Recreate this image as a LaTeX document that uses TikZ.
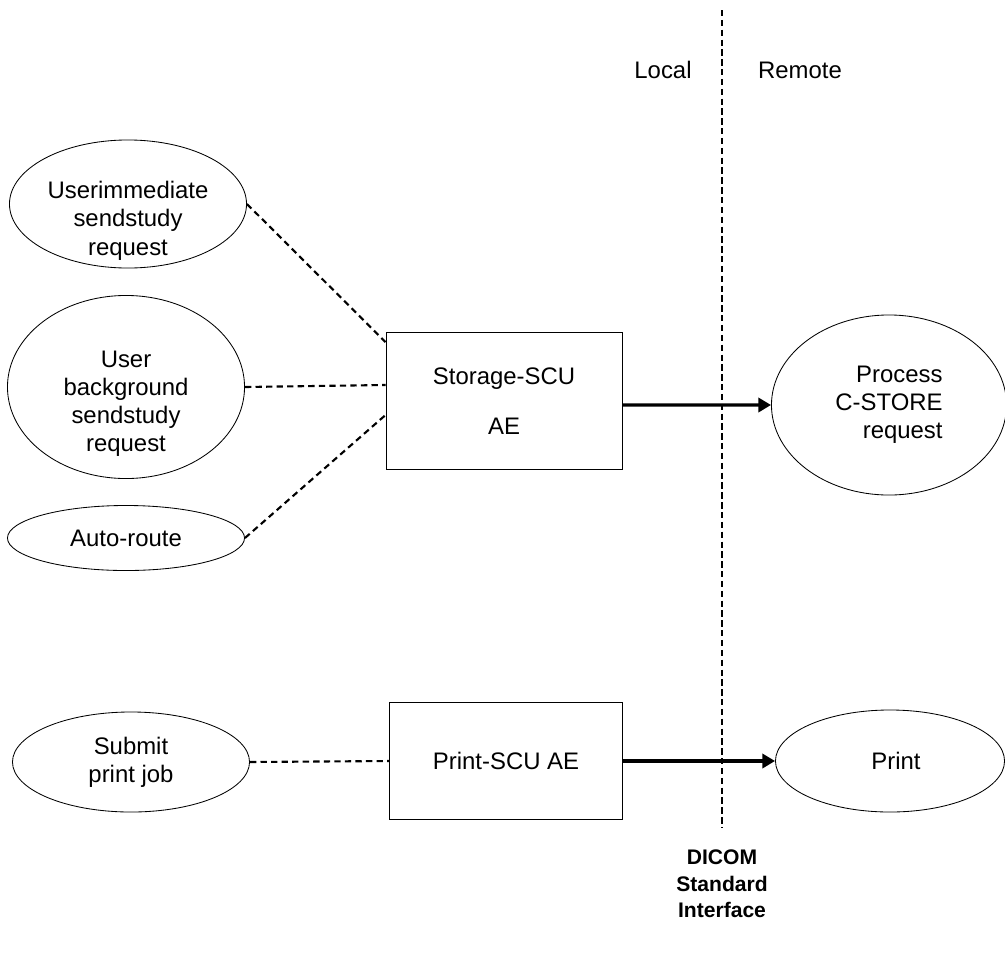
\documentclass[tikz,border=0pt]{standalone}
\usepackage{fontspec}
\setmainfont{Liberation Sans}
\usetikzlibrary{arrows.meta, shapes.geometric}

\begin{document}
\begin{tikzpicture}[x=0.025cm, y=-0.025cm,
    every node/.style={font=\fontsize{17}{20}\selectfont, align=center},
    usecase/.style={draw, ellipse, line width=0.6pt, inner sep=0pt, minimum width=5.925cm},
    aebox/.style={draw, rectangle, line width=0.6pt, inner sep=0pt},
    link/.style={line width=1.5pt, dash pattern=on 4.5pt off 3pt},
    flow/.style={line width=2.4pt, -{Triangle[length=9pt, width=10pt]}},
    border/.style={line width=1.7pt, dash pattern=on 4.5pt off 2.5pt}]
    \useasboundingbox (0, 0) rectangle (1005, 967);
    % interface line
    \coordinate (top) at (722, 10);
    \coordinate (bot) at (722, 828);
    \draw [border] (top) to (bot);
    \node (local) at (663, 70) {Local};
    \node (remote) at (800, 70) {Remote};
    \node [font=\fontsize{15}{19}\selectfont\bfseries] (dicom) at (722, 884) {DICOM\\Standard\\Interface};
    % storage
    \node [usecase, minimum height=3.2cm,
      label={[yshift=-0.42cm]center:{Userimmediate\\sendstudy\\request}}] (imm) at (128, 204) {};
    \node [usecase, minimum height=4.575cm,
      label={[yshift=-0.42cm]center:{User\\background\\sendstudy\\request}}] (bg) at (126, 387) {};
    \node [usecase, minimum height=1.625cm] (auto) at (126, 538) {Auto-route};
    \node [aebox, minimum width=5.9cm, minimum height=3.425cm] (stor) at (504, 401) {Storage-SCU\\[0.55cm]AE};
    \node [usecase, minimum width=5.875cm, minimum height=4.5cm, align=right] (cstore) at (889, 405) {Process\\C-STORE\\request};
    \draw [link] (imm.east) to ([yshift=-0.25cm]stor.north west);
    \draw [link] (bg.east) to ([yshift=0.4cm]stor.west);
    \draw [link] (auto.east) to ([yshift=-0.35cm]stor.west);
    \draw [flow] ([yshift=-0.1cm]stor.east) to (cstore.west);
    % print
    \node [usecase, minimum height=2.5cm] (submit) at (131, 762) {Submit\\print job};
    \node [aebox, minimum width=5.825cm, minimum height=2.925cm] (prscu) at (506, 761) {Print-SCU AE};
    \node [usecase, minimum width=5.725cm, minimum height=2.55cm] (print) at (890, 761) {\hspace{0.3cm}Print};
    \draw [link] (submit.east) to (prscu.west);
    \draw [flow] (prscu.east) to (print.west);
  \end{tikzpicture}
\end{document}
